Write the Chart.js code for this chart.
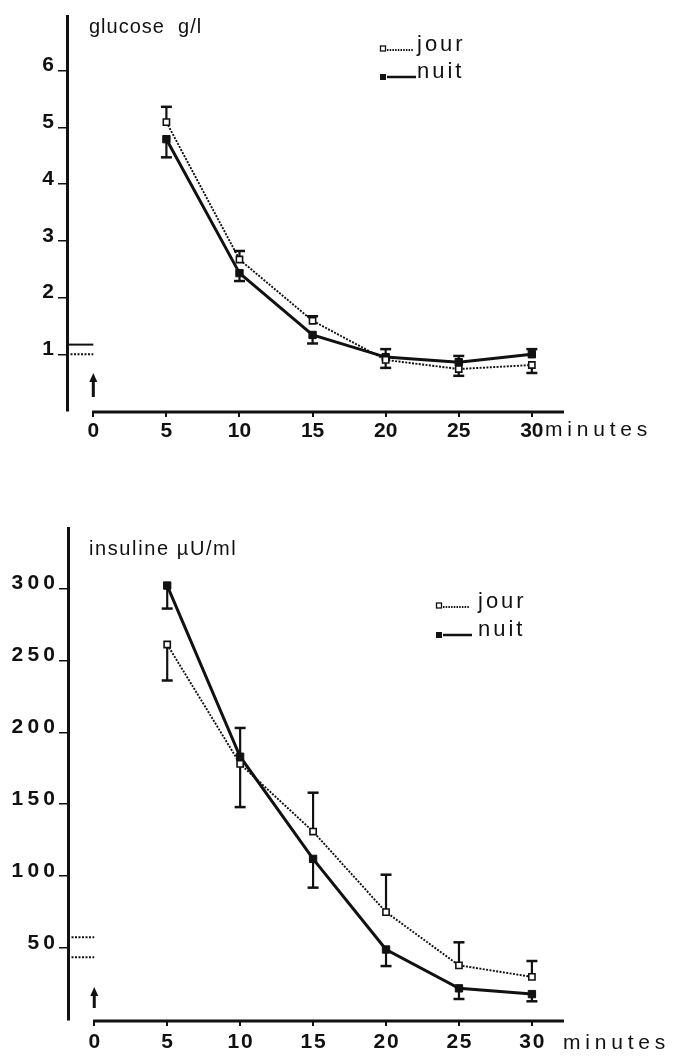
<!DOCTYPE html>
<html>
<head>
<meta charset="utf-8">
<script src="https://cdn.jsdelivr.net/npm/chart.js@4.4.1/dist/chart.umd.min.js"></script>
<style>
  body { margin: 0; background: #fff; }
  canvas { position: absolute; left: 0; }
</style>
</head>
<body>
<canvas id="glucose" width="675" height="450" style="top:0"></canvas>
<canvas id="insuline" width="675" height="598" style="top:460px"></canvas>
<script>
// temps en minutes
const minutes = [5, 10, 15, 20, 25, 30];
const xTicks = [0, 5, 10, 15, 20, 25, 30];

// glucose g/l
const glucoseJour = [5.09, 2.67, 1.59, 0.90, 0.74, 0.81];
const glucoseNuit = [4.79, 2.43, 1.34, 0.95, 0.86, 1.00];
const glucoseJourErr = [5.36, 2.82, 1.67, 0.76, 0.62, 0.67]; // bout de la barre d'erreur
const glucoseNuitErr = [4.47, 2.29, 1.19, 1.09, 0.97, 1.09];
const glucoseTicks = [1, 2, 3, 4, 5, 6];
const glucoseBase = [1.17, 1.0]; // valeurs de base (nuit, jour)

// insuline µU/ml
const insulineJour = [261, 178, 131, 75, 38, 30];
const insulineNuit = [302, 183, 112, 49, 22, 18];
const insulineJourErr = [236, 148, 158, 101, 54, 41];
const insulineNuitErr = [286, 203, 92, 37.5, 14.6, 13];
const insulineTicks = [50, 100, 150, 200, 250, 300];
const insulineBase = [57.6, 43.7];

const INK = "#111";
const FONT = "'Liberation Sans', Arial, sans-serif";

// chiffres espacés comme sur l'original
const spaced = sep => v => String(v).split("").join(sep);

const figurePlugin = {
  id: "figure",
  beforeDatasetsDraw(chart, args, opts) {
    // barres d'erreur sous les marqueurs
    const ctx = chart.ctx, xs = chart.scales.x, ys = chart.scales.y;
    ctx.save();
    ctx.strokeStyle = INK;
    opts.errors.forEach((err, d) => {
      err.forEach((v, i) => {
        const x = xs.getPixelForValue(minutes[i]);
        const y0 = ys.getPixelForValue(chart.data.datasets[d].data[i].y);
        const y1 = ys.getPixelForValue(v);
        ctx.lineWidth = 2.2;
        ctx.beginPath(); ctx.moveTo(x, y0); ctx.lineTo(x, y1); ctx.stroke();
        ctx.lineWidth = 2.5;
        ctx.beginPath(); ctx.moveTo(x - 5.5, y1); ctx.lineTo(x + 5.5, y1); ctx.stroke();
      });
    });
    ctx.restore();
  },
  afterDraw(chart, args, opts) {
    const ctx = chart.ctx, xs = chart.scales.x, ys = chart.scales.y;
    const area = chart.chartArea;
    const x0 = xs.getPixelForValue(0);
    ctx.save();
    ctx.strokeStyle = INK;
    ctx.fillStyle = INK;

    // axe des x (commence à 0, pas à l'axe des y)
    ctx.lineWidth = 2.8;
    ctx.beginPath(); ctx.moveTo(x0 - 1, area.bottom + 1); ctx.lineTo(area.right, area.bottom + 1); ctx.stroke();

    // valeurs de base
    opts.base.forEach((v, i) => {
      const y = ys.getPixelForValue(v);
      ctx.lineWidth = 2;
      ctx.setLineDash(opts.baseDash[i]);
      ctx.beginPath(); ctx.moveTo(area.left, y); ctx.lineTo(x0, y); ctx.stroke();
    });
    ctx.setLineDash([]);

    // flèche d'injection
    const ab = area.bottom - opts.arrow[0], at = area.bottom - opts.arrow[1];
    ctx.lineWidth = 3;
    ctx.beginPath(); ctx.moveTo(x0, ab); ctx.lineTo(x0, at + 6); ctx.stroke();
    ctx.beginPath(); ctx.moveTo(x0, at); ctx.lineTo(x0 - 4, at + 9); ctx.lineTo(x0 + 4, at + 9); ctx.closePath(); ctx.fill();

    // titre
    ctx.font = "20px " + FONT;
    ctx.letterSpacing = opts.titleSpacing;
    ctx.textBaseline = "middle";
    ctx.textAlign = "left";
    ctx.fillText(opts.title, 89, opts.titleY);

    // minutes
    ctx.font = "21px " + FONT;
    ctx.letterSpacing = "4.8px";
    ctx.fillText("minutes", opts.minutesX, area.bottom + opts.minutesDy);

    // légende
    const L = opts.legend;
    ctx.lineWidth = 1.3;
    ctx.strokeRect(L.x - 2.5, L.y1 + 1, 5, 5);
    ctx.lineWidth = 1.8;
    ctx.setLineDash([1.5, 1.2]);
    ctx.beginPath(); ctx.moveTo(L.x + 4, L.y1 + 5); ctx.lineTo(L.x + L.len, L.y1 + 5); ctx.stroke();
    ctx.setLineDash([]);
    ctx.fillRect(L.x - 3, L.y2 + 2, 6, 6);
    ctx.lineWidth = 2.5;
    ctx.beginPath(); ctx.moveTo(L.x + 4, L.y2 + 5); ctx.lineTo(L.x + L.len + 3, L.y2 + 5); ctx.stroke();
    ctx.font = "22px " + FONT;
    ctx.letterSpacing = "3px";
    ctx.fillText("jour", L.tx, L.y1);
    ctx.fillText("nuit", L.tx, L.y2);
    ctx.restore();
  }
};

function makeChart(id, jour, nuit, jourErr, nuitErr, yTicks, yMax, fig) {
  const tickFont = { family: FONT, size: 21, weight: "bold" };
  return new Chart(document.getElementById(id), {
    type: "line",
    data: {
      datasets: [
        {
          label: "jour",
          data: minutes.map((m, i) => ({ x: m, y: jour[i] })),
          borderColor: INK, borderWidth: 1.9, borderDash: [2, 1.4],
          pointStyle: "rect", pointRadius: 4.4,
          pointBackgroundColor: "#fff", pointBorderColor: INK, pointBorderWidth: 1.6,
          tension: 0
        },
        {
          label: "nuit",
          data: minutes.map((m, i) => ({ x: m, y: nuit[i] })),
          borderColor: INK, borderWidth: 3,
          pointStyle: "rect", pointRadius: 5.2,
          pointBackgroundColor: INK, pointBorderColor: INK, pointBorderWidth: 1,
          tension: 0
        }
      ]
    },
    options: {
      responsive: false,
      animation: false,
      layout: { padding: { top: fig.top, right: 111, left: 0, bottom: 0 } },
      plugins: {
        legend: { display: false },
        tooltip: { enabled: false },
        figure: {
          errors: [jourErr, nuitErr],
          base: fig.base, baseDash: fig.baseDash, arrow: fig.arrow,
          title: fig.title, titleY: fig.titleY, titleSpacing: fig.titleSpacing,
          minutesX: fig.minutesX, minutesDy: fig.minutesDy,
          legend: fig.legend
        }
      },
      scales: {
        x: {
          type: "linear", min: -1.8, max: 32.2,
          afterBuildTicks: s => { s.ticks = xTicks.map(v => ({ value: v })); },
          afterFit: s => { s.height = fig.xHeight; },
          border: { display: false },
          grid: { drawOnChartArea: false, tickLength: 6, color: INK, lineWidth: 2 },
          ticks: { font: tickFont, color: INK, padding: fig.xPad, maxRotation: 0, autoSkip: false,
                   callback: spaced(fig.xSep) }
        },
        y: {
          min: 0, max: yMax,
          afterBuildTicks: s => { s.ticks = yTicks.map(v => ({ value: v })); },
          afterFit: s => { s.width = fig.yWidth; },
          border: { display: true, color: INK, width: 3 },
          grid: { drawOnChartArea: false, tickLength: 9, color: INK, lineWidth: 1.5 },
          ticks: { font: tickFont, color: INK, padding: 4, labelOffset: -5,
                   callback: spaced(fig.ySep) }
        }
      }
    },
    plugins: [figurePlugin]
  });
}

makeChart("glucose", glucoseJour, glucoseNuit, glucoseJourErr, glucoseNuitErr, glucoseTicks, 6.95, {
  top: 8, xHeight: 39, yWidth: 67, xPad: 2, xSep: "", ySep: "",
  base: glucoseBase, baseDash: [[], [2, 1.5]], arrow: [14, 38],
  title: "glucose  g/l", titleY: 27, titleSpacing: "1px",
  minutesX: 545, minutesDy: 19,
  legend: { x: 383, y1: 45, y2: 72, len: 30, tx: 417 }
});

makeChart("insuline", insulineJour, insulineNuit, insulineJourErr, insulineNuitErr, insulineTicks, 342, {
  top: 68, xHeight: 38, yWidth: 68, xPad: 4, xSep: "\u200a", ySep: "\u2009",
  base: insulineBase, baseDash: [[2, 1.5], [2, 1.5]], arrow: [12, 33],
  title: "insuline \u00b5U/ml", titleY: 89, titleSpacing: "1.6px",
  minutesX: 563, minutesDy: 23,
  legend: { x: 439, y1: 142, y2: 170, len: 30, tx: 478 }
});
</script>
</body>
</html>
